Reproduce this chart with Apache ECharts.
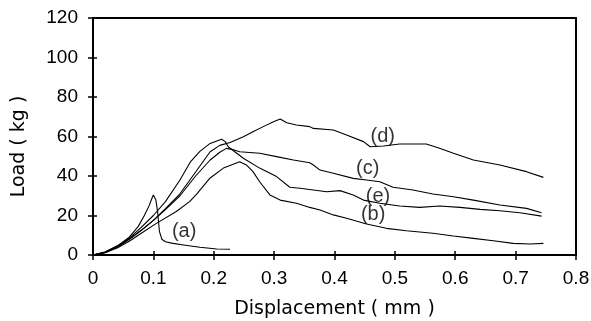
<!DOCTYPE html>
<html>
<head>
<meta charset="utf-8">
<script src="https://cdn.jsdelivr.net/npm/echarts@6/dist/echarts.min.js"></script>
<style>
html,body{margin:0;padding:0;background:#fff;}
#chart{width:591px;height:321px;}
</style>
</head>
<body>
<div id="chart"></div>
<script>
// Displacement (mm) vs Load (kg)
var xTicks = [0, 0.1, 0.2, 0.3, 0.4, 0.5, 0.6, 0.7, 0.8];
var yTicks = [0, 20, 40, 60, 80, 100, 120];

var curveA = [[0,0],[0.02,1.5],[0.04,4.5],[0.06,9],[0.075,14.5],[0.085,20],[0.093,25],[0.098,29],[0.1,30.4],[0.104,28],[0.107,22],[0.11,12],[0.114,8],[0.12,6.7],[0.13,6],[0.15,5.1],[0.177,3.9],[0.205,3],[0.227,2.9]];
var curveB = [[0,0],[0.02,1.2],[0.04,3.5],[0.06,7],[0.08,11],[0.105,16],[0.138,22],[0.16,27],[0.172,31],[0.194,39],[0.216,44],[0.243,47.2],[0.254,45.6],[0.265,42.2],[0.276,37.1],[0.293,30.4],[0.31,27.8],[0.337,26.2],[0.359,24.1],[0.376,22.8],[0.398,20.3],[0.42,18.6],[0.453,15.7],[0.486,13.5],[0.519,12.3],[0.563,11],[0.597,9.6],[0.63,8.4],[0.663,7.2],[0.696,5.9],[0.724,5.6],[0.746,5.9]];
var curveC = [[0,0],[0.02,1.3],[0.04,4],[0.06,8],[0.08,12.5],[0.1,17.5],[0.12,23],[0.144,30],[0.17,40],[0.194,48.1],[0.21,52],[0.221,54],[0.23,53.5],[0.243,52.3],[0.276,51.5],[0.304,49.8],[0.332,48.1],[0.359,46.7],[0.365,45.6],[0.376,43],[0.398,41.4],[0.431,38.8],[0.453,38],[0.475,37.1],[0.497,34.3],[0.53,32.9],[0.563,30.9],[0.597,29.5],[0.63,27.8],[0.674,25.3],[0.718,23.6],[0.743,21.4]];
var curveD = [[0,0],[0.02,1.3],[0.04,4],[0.06,8],[0.08,12.5],[0.1,17.5],[0.12,23.5],[0.144,31],[0.17,42],[0.194,52.3],[0.21,55.5],[0.227,57],[0.249,59.9],[0.265,62.4],[0.282,65],[0.299,67.5],[0.31,68.9],[0.321,67],[0.337,65.8],[0.359,65],[0.365,64.1],[0.398,63.3],[0.42,60.8],[0.448,57.4],[0.459,54.8],[0.481,55.2],[0.508,56.2],[0.552,56.2],[0.574,54],[0.597,51.5],[0.63,48.1],[0.674,45.6],[0.718,42.2],[0.746,39.3]];
var curveE = [[0,0],[0.02,1.5],[0.04,4.5],[0.06,8.5],[0.08,14],[0.1,20],[0.12,27],[0.144,38],[0.161,47],[0.177,52.5],[0.194,56.5],[0.213,58.6],[0.219,57.4],[0.224,54.8],[0.249,49],[0.276,44],[0.304,39.7],[0.326,34.3],[0.343,33.8],[0.365,32.9],[0.387,32],[0.409,32.6],[0.431,30.4],[0.448,27.8],[0.475,26.2],[0.508,24.8],[0.541,24.1],[0.574,24.8],[0.608,24.1],[0.641,23.1],[0.674,22.4],[0.707,21.4],[0.743,19.7]];

var labelNames = ['(a)', '(b)', '(c)', '(d)', '(e)'];
var labelX = [0.151, 0.464, 0.455, 0.48, 0.472];
var labelY = [11.8, 20.3, 43.9, 60.2, 29.5];

var tickFont = '"Liberation Sans", Arial, sans-serif';
var nameFont = '"DejaVu Sans", sans-serif';
var xMin = xTicks[0], xMax = xTicks[xTicks.length - 1];
var yMin = yTicks[0], yMax = yTicks[yTicks.length - 1];
var gridRect = {left: 93, top: 18, width: 483, height: 237, show: false, outerBoundsMode: 'none'};

function lineSeries(d) {
  return {type: 'line', data: d, showSymbol: false, symbol: 'none', smooth: false, xAxisIndex: 0, yAxisIndex: 0,
    lineStyle: {color: '#000', width: 1.1}, silent: true, animation: false, z: 3};
}
function frameAxis(pos, mn, mx, iv) {
  return {type: 'value', min: mn, max: mx, interval: iv, position: pos, gridIndex: 0,
    axisLine: {show: true, onZero: false, lineStyle: {color: '#000', width: 2}},
    axisTick: {show: false}, axisLabel: {show: false}, splitLine: {show: false}};
}
function innerTickAxis(pos, mn, mx, iv) {
  return {type: 'value', min: mn, max: mx, interval: iv, position: pos, gridIndex: 1,
    axisLine: {show: false, onZero: false},
    axisTick: {show: true, inside: true, length: 4, lineStyle: {color: '#000', width: 1.5}},
    axisLabel: {show: false}, splitLine: {show: false}};
}
var labelData = labelNames.map(function (n, i) { return {name: n, value: [labelX[i], labelY[i]]}; });

var chart = echarts.init(document.getElementById('chart'), null, {renderer: 'canvas'});
chart.setOption({
  animation: false,
  backgroundColor: '#fff',
  grid: [Object.assign({}, gridRect), Object.assign({}, gridRect)],
  xAxis: [{
    type: 'value', min: xMin, max: xMax, interval: 0.1, position: 'bottom', gridIndex: 0,
    name: 'Displacement ( mm )', nameLocation: 'middle', nameGap: 45,
    nameTextStyle: {fontFamily: nameFont, fontSize: 19, color: '#000'},
    axisLine: {show: true, onZero: false, lineStyle: {color: '#000', width: 2}},
    axisTick: {show: true, inside: false, length: 5, lineStyle: {color: '#000', width: 1.5}},
    axisLabel: {show: true, margin: 14, fontFamily: tickFont, fontSize: 19, color: '#000',
      formatter: function (v) { return String(+v.toFixed(1)); }},
    splitLine: {show: false}
  }, frameAxis('top', xMin, xMax, 0.1), innerTickAxis('bottom', xMin, xMax, 0.1)],
  yAxis: [{
    type: 'value', min: yMin, max: yMax, interval: 20, position: 'left', gridIndex: 0,
    name: 'Load ( kg )', nameLocation: 'middle', nameGap: 64, nameRotate: 90,
    nameTextStyle: {fontFamily: nameFont, fontSize: 19, color: '#000', padding: [0, 20, 0, 0]},
    axisLine: {show: true, onZero: false, lineStyle: {color: '#000', width: 2}},
    axisTick: {show: true, inside: false, length: 5, lineStyle: {color: '#000', width: 1.5}},
    axisLabel: {show: true, margin: 15, fontFamily: tickFont, fontSize: 19, color: '#000'},
    splitLine: {show: false}
  }, frameAxis('right', yMin, yMax, 20), innerTickAxis('left', yMin, yMax, 20)],
  series: [
    lineSeries(curveA), lineSeries(curveB), lineSeries(curveC), lineSeries(curveD), lineSeries(curveE),
    {type: 'scatter', data: labelData, symbolSize: 0, silent: true, z: 5, xAxisIndex: 0, yAxisIndex: 0,
      label: {show: true, position: 'inside', formatter: '{b}', fontFamily: tickFont, fontSize: 20, color: '#000'}}
  ]
});
</script>
</body>
</html>
